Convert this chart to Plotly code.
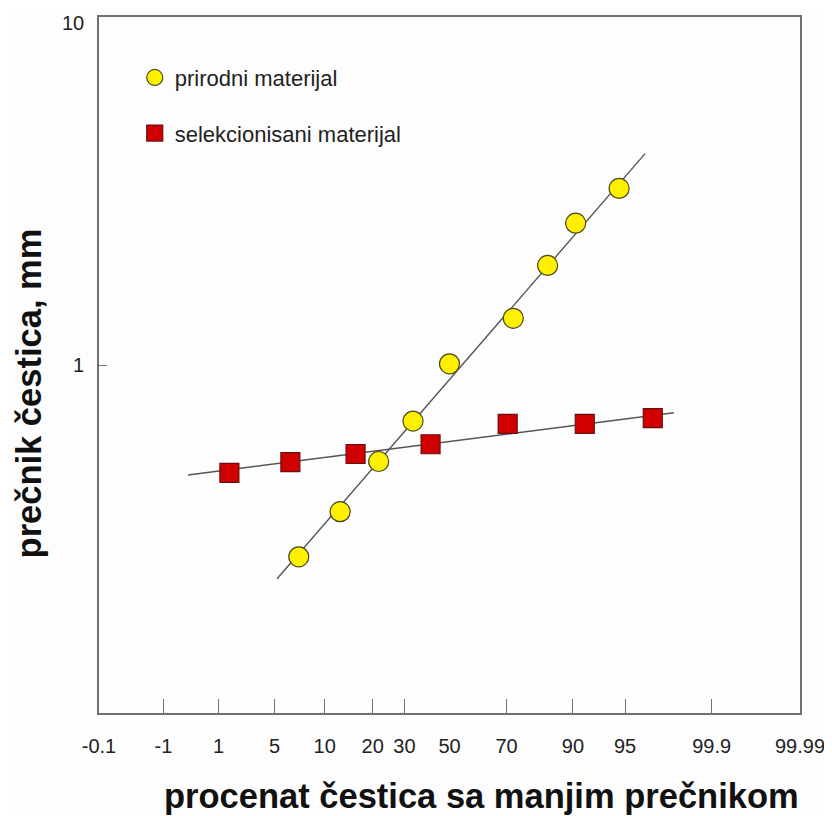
import plotly.graph_objects as go

# Probability-scale x axis: tick labels and their positions along the axis (0-100 axis units)
tick_labels = ["-0.1", "-1", "1", "5", "10", "20", "30", "50", "70", "90", "95", "99.9", "99.99"]
tick_pos = [0, 9.19, 17.04, 25.04, 32.19, 39.04, 43.57, 50, 58.14, 67.61, 75.04, 87.39, 100]
ticked_labels = ["-1", "1", "5", "10", "20", "30", "70", "90", "95", "99.9"]

# prirodni materijal (natural material)
nat_x = [28.5, 34.4, 39.9, 44.8, 50.0, 59.1, 64.0, 68.0, 74.2]
nat_y = [0.281, 0.379, 0.528, 0.690, 1.008, 1.362, 1.933, 2.556, 3.217]
nat_fit_x = [25.4, 77.9]
nat_fit_y = [0.243, 4.05]

# selekcionisani materijal (selected material)
sel_x = [18.6, 27.3, 36.6, 47.3, 58.3, 69.3, 79.0]
sel_y = [0.490, 0.526, 0.555, 0.592, 0.677, 0.677, 0.704]
sel_fit_x = [12.7, 82.0]
sel_fit_y = [0.483, 0.729]

y_tickvals = [1, 10]
y_ticktext = ["1", "10"]

FONT = "Arial, Liberation Sans, Helvetica, sans-serif"
LINE_COL = "#555555"
AXIS_COL = "#707070"

fig = go.Figure()

fig.add_trace(go.Scatter(x=nat_fit_x, y=nat_fit_y, mode="lines",
                         line=dict(color=LINE_COL, width=1.4), showlegend=False, hoverinfo="skip"))
fig.add_trace(go.Scatter(x=sel_fit_x, y=sel_fit_y, mode="lines",
                         line=dict(color=LINE_COL, width=1.4), showlegend=False, hoverinfo="skip"))

fig.add_trace(go.Scatter(x=nat_x, y=nat_y, mode="markers", name="prirodni materijal",
                         legendgroup="a",
                         marker=dict(symbol="circle", size=20, color="#FFF000",
                                     line=dict(color="#4a4a20", width=1.2))))
fig.add_trace(go.Scatter(x=sel_x, y=sel_y, mode="markers", name="selekcionisani materijal",
                         legendgroup="b",
                         marker=dict(symbol="square", size=19, color="#D00000",
                                     line=dict(color="#6a1010", width=1.2))))

minor_vals = [p for l, p in zip(tick_labels, tick_pos) if l in ticked_labels]

fig.update_xaxes(
    range=[0, 100], showgrid=False, zeroline=False, automargin=False,
    showline=True, linecolor=AXIS_COL, linewidth=1.6, mirror=True,
    tickmode="array", tickvals=tick_pos, ticktext=tick_labels,
    ticks="", ticklabelstandoff=14, ticklabeloverflow="allow",
    tickfont=dict(family=FONT, size=20, color="#222222"),
    minor=dict(tickmode="array", tickvals=minor_vals, ticks="inside", ticklen=14,
               tickwidth=1.4, tickcolor=AXIS_COL, showgrid=False),
)
# top label ("10") sits a little below the frame corner in the original, so it is placed separately
fig.update_yaxes(
    type="log", range=[-1, 1], showgrid=False, zeroline=False, automargin=False,
    showline=True, linecolor=AXIS_COL, linewidth=1.6, mirror=True,
    tickmode="array", tickvals=y_tickvals, ticktext=[y_ticktext[0], ""],
    ticks="inside", ticklen=8, tickwidth=1.4, tickcolor=AXIS_COL,
    ticklabelstandoff=9, ticklabeloverflow="allow",
    tickfont=dict(family=FONT, size=20, color="#222222"),
)
fig.add_annotation(text=y_ticktext[1], xref="paper", yref="y", x=0, y=1,
                   xanchor="right", yanchor="middle", xshift=-13, yshift=-6,
                   showarrow=False, font=dict(family=FONT, size=20, color="#222222"))

fig.add_annotation(text="procenat čestica sa manjim prečnikom", xref="paper", yref="paper",
                   x=0.546, y=-0.119, xanchor="center", yanchor="middle", showarrow=False,
                   font=dict(family=FONT, size=34.5, color="#111111", weight="bold"))
fig.add_annotation(text="prečnik čestica, mm", xref="paper", yref="paper",
                   x=-0.1, y=0.459, xanchor="center", yanchor="middle", showarrow=False,
                   textangle=-90,
                   font=dict(family=FONT, size=34.5, color="#111111", weight="bold"))

fig.update_layout(
    width=824, height=808,
    margin=dict(l=91, r=32, t=9, b=103, autoexpand=False),
    paper_bgcolor="#fdfdfd", plot_bgcolor="#fdfdfd",
    showlegend=True,
    legend=dict(x=0.051, y=0.943, xanchor="left", yanchor="top",
                bgcolor="rgba(0,0,0,0)", borderwidth=0,
                traceorder="grouped", tracegroupgap=24,
                font=dict(family=FONT, size=22, color="#222222")),
)

fig.write_html("out.html")
